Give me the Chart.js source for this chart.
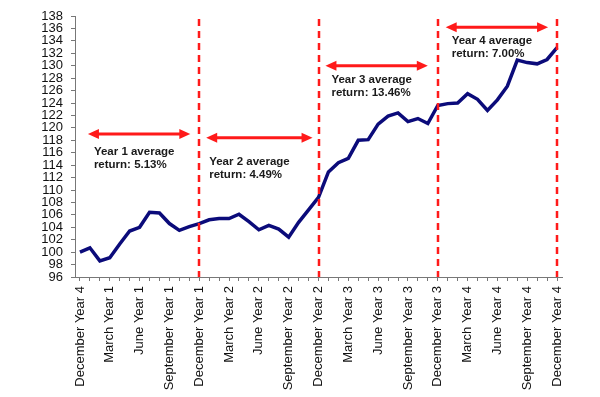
<!DOCTYPE HTML>
<html>
<head>
    <meta charset="UTF-8">
    <title>Average return by year</title>
    <script src="https://cdn.jsdelivr.net/npm/chart.js@4.4.1/dist/chart.umd.min.js"></script>
    <style>
        html, body { margin: 0; padding: 0; background: #fff; }
        #wrap { width: 600px; height: 397px; }
    </style>
</head>
<body>
<div id="wrap"><canvas id="myChart" width="600" height="397"></canvas></div>
<script>
    // monthly categories, December of the base year through December Year 4
    const months = [
        'December Year 4',
        'January Year 1', 'February Year 1', 'March Year 1', 'April Year 1', 'May Year 1', 'June Year 1',
        'July Year 1', 'August Year 1', 'September Year 1', 'October Year 1', 'November Year 1', 'December Year 1',
        'January Year 2', 'February Year 2', 'March Year 2', 'April Year 2', 'May Year 2', 'June Year 2',
        'July Year 2', 'August Year 2', 'September Year 2', 'October Year 2', 'November Year 2', 'December Year 2',
        'January Year 3', 'February Year 3', 'March Year 3', 'April Year 3', 'May Year 3', 'June Year 3',
        'July Year 3', 'August Year 3', 'September Year 3', 'October Year 3', 'November Year 3', 'December Year 3',
        'January Year 4', 'February Year 4', 'March Year 4', 'April Year 4', 'May Year 4', 'June Year 4',
        'July Year 4', 'August Year 4', 'September Year 4', 'October Year 4', 'November Year 4', 'December Year 4'
    ];
    // only every third month gets a tick label
    const tickLabels = [
        'December Year 4', 'March Year 1', 'June Year 1', 'September Year 1',
        'December Year 1', 'March Year 2', 'June Year 2', 'September Year 2',
        'December Year 2', 'March Year 3', 'June Year 3', 'September Year 3',
        'December Year 3', 'March Year 4', 'June Year 4', 'September Year 4',
        'December Year 4'
    ];
    const values = [
        100.0, 100.7, 98.6, 99.1, 101.3, 103.4, 104.0, 106.4, 106.3, 104.6, 103.5, 104.1,
        104.6, 105.2, 105.4, 105.4, 106.1, 104.9, 103.6, 104.3, 103.7, 102.4, 104.8, 106.8,
        108.8, 112.9, 114.4, 115.1, 118.0, 118.1, 120.6, 121.9, 122.4, 121.0, 121.5, 120.7,
        123.6, 123.9, 124.0, 125.5, 124.6, 122.8, 124.5, 126.7, 130.9, 130.5, 130.3, 131.0,
        132.9
    ];
    const yearEnds = [12, 24, 36, 48];
    const yearNotes = [
        ['Year 1 average', 'return: 5.13%'],
        ['Year 2 average', 'return: 4.49%'],
        ['Year 3 average', 'return: 13.46%'],
        ['Year 4 average', 'return: 7.00%']
    ];

    // arrow spans (category index) and heights (y value), text anchors
    let arrows = [
        { from: 0.8, to: 11.1, y: 119.0, tx: 1.4, ty: 116.1 },
        { from: 12.7, to: 23.4, y: 118.4, tx: 13.0, ty: 114.5 },
        { from: 24.7, to: 35.0, y: 130.0, tx: 25.3, ty: 127.7 },
        { from: 36.8, to: 47.1, y: 136.2, tx: 37.4, ty: 134.0 }
    ];

    function arrowHead(ctx, x, y, dir) {
        ctx.beginPath();
        ctx.moveTo(x, y);
        ctx.lineTo(x - dir * 11, y - 5);
        ctx.lineTo(x - dir * 11, y + 5);
        ctx.closePath();
        ctx.fill();
    }

    const notesPlugin = {
        id: 'notes',
        afterDatasetsDraw(chart) {
            let ctx = chart.ctx;
            let xs = chart.scales.x, ys = chart.scales.y;
            let area = chart.chartArea;
            ctx.save();
            // year end dashed lines
            ctx.strokeStyle = '#ff1a1a';
            ctx.lineWidth = 2.5;
            ctx.setLineDash([7, 5]);
            yearEnds.forEach(function (i) {
                let x = Math.round(xs.getPixelForValue(i));
                ctx.beginPath();
                ctx.moveTo(x, area.top + 3);
                ctx.lineTo(x, area.bottom);
                ctx.stroke();
            });
            ctx.setLineDash([]);
            // double arrows
            ctx.fillStyle = '#ff1a1a';
            ctx.lineWidth = 3;
            arrows.forEach(function (a) {
                let x1 = xs.getPixelForValue(a.from), x2 = xs.getPixelForValue(a.to);
                let y = ys.getPixelForValue(a.y);
                ctx.beginPath();
                ctx.moveTo(x1 + 8, y);
                ctx.lineTo(x2 - 8, y);
                ctx.stroke();
                arrowHead(ctx, x1, y, -1);
                arrowHead(ctx, x2, y, 1);
            });
            // labels
            ctx.fillStyle = '#1a1a1a';
            ctx.font = 'bold 11.5px "Liberation Sans", Arial, sans-serif';
            ctx.textBaseline = 'middle';
            ctx.textAlign = 'left';
            arrows.forEach(function (a, k) {
                let x = xs.getPixelForValue(a.tx);
                let y = ys.getPixelForValue(a.ty);
                yearNotes[k].forEach(function (line, j) {
                    ctx.fillText(line, x, y + j * 12.6);
                });
            });
            ctx.restore();
        }
    };

    let ctx = document.getElementById('myChart').getContext('2d');
    let myChart = new Chart(ctx, {
        type: 'line',
        data: {
            labels: months,
            datasets: [{
                data: values,
                borderColor: '#0b0b7a',
                borderWidth: 3.5,
                pointRadius: 0,
                tension: 0,
                fill: false
            }]
        },
        options: {
            responsive: false,
            animation: false,
            devicePixelRatio: 1,
            layout: { padding: { top: 16, right: 38, bottom: 0, left: 0 } },
            plugins: {
                legend: { display: false },
                tooltip: { enabled: false }
            },
            scales: {
                x: {
                    offset: true,
                    afterFit: function (scale) { scale.height = 120; },
                    grid: {
                        drawOnChartArea: false,
                        drawTicks: true,
                        tickLength: 4,
                        color: '#777'
                    },
                    border: { display: true, color: '#777', width: 1 },
                    ticks: {
                        autoSkip: false,
                        maxRotation: 90,
                        minRotation: 90,
                        padding: 5,
                        color: '#111',
                        font: { family: '"Liberation Sans", Arial, sans-serif', size: 13 },
                        callback: function (value, index) {
                            return index % 3 === 0 ? tickLabels[index / 3] : '';
                        }
                    }
                },
                y: {
                    min: 96,
                    max: 138,
                    afterFit: function (scale) { scale.width = 75; },
                    grid: {
                        drawOnChartArea: false,
                        drawTicks: true,
                        tickLength: 4,
                        color: '#777'
                    },
                    border: { display: true, color: '#777', width: 1 },
                    ticks: {
                        stepSize: 2,
                        autoSkip: false,
                        padding: 8,
                        color: '#111',
                        font: { family: '"Liberation Sans", Arial, sans-serif', size: 13, lineHeight: 1 }
                    }
                }
            }
        },
        plugins: [notesPlugin]
    });
</script>
</body>
</html>
